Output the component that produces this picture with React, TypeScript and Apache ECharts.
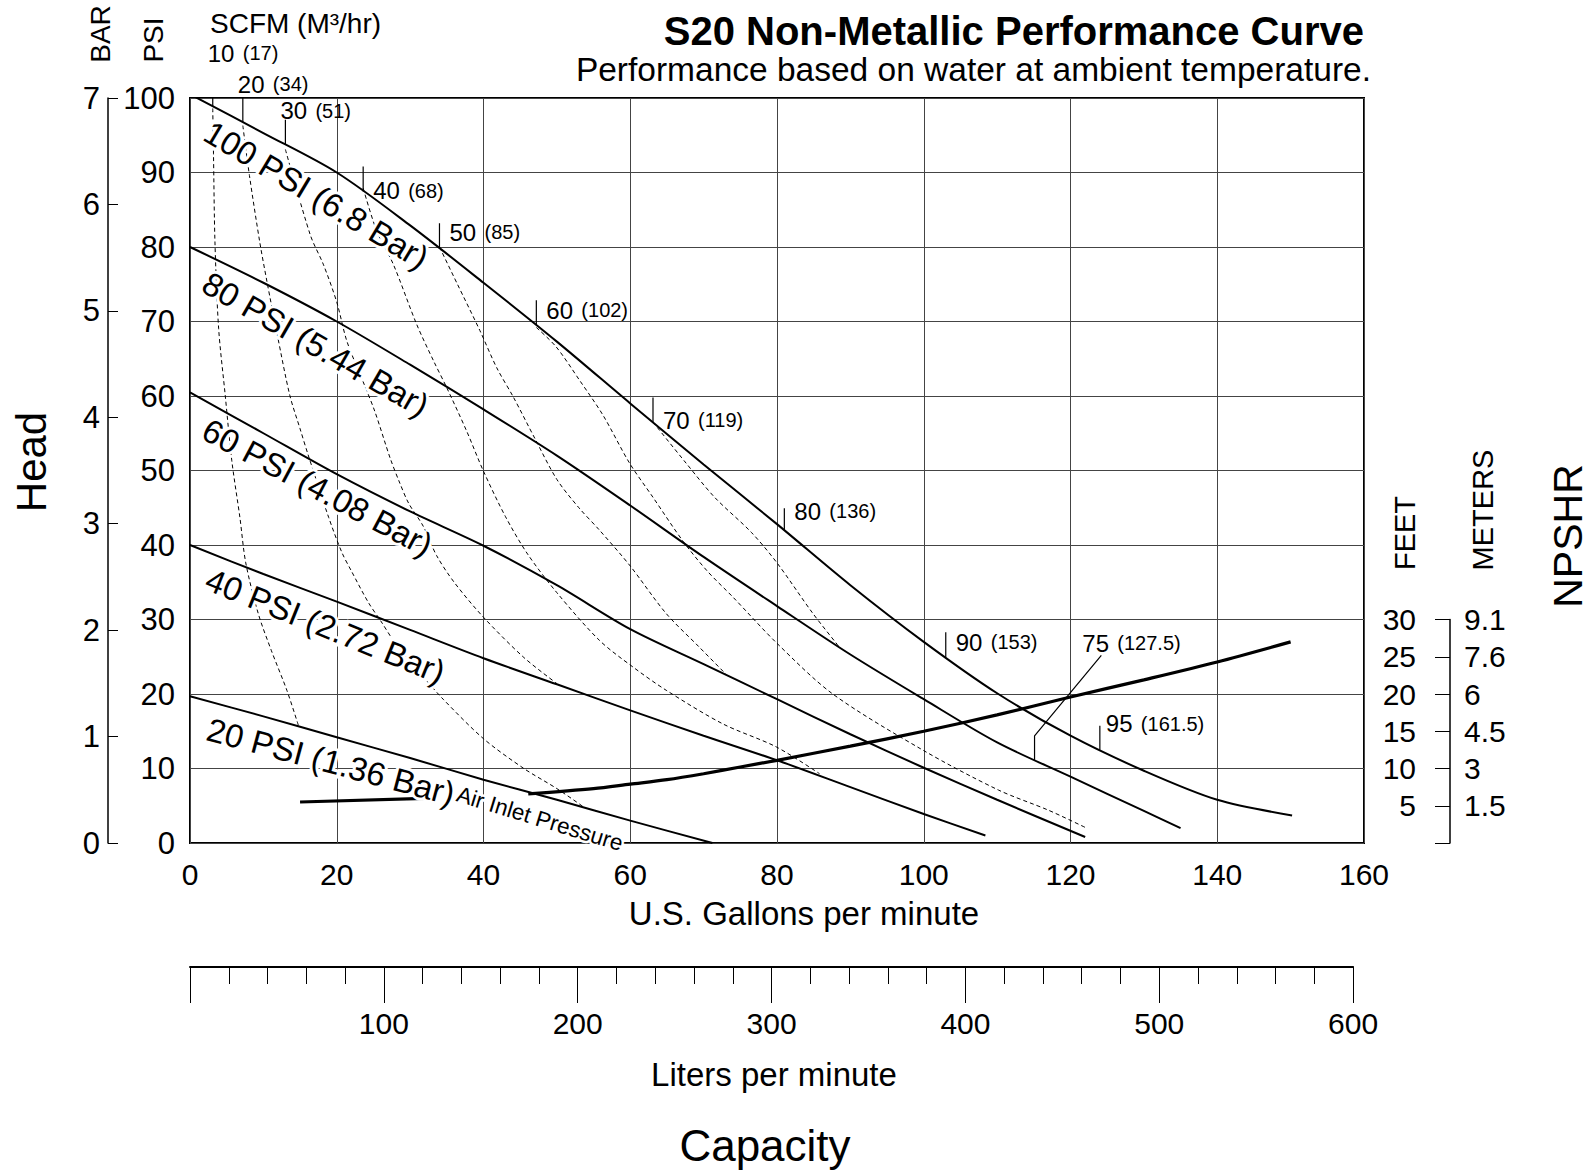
import React, { useEffect, useRef } from "react";
import * as echarts from "echarts";

const FONT = '"Liberation Sans", Arial, Helvetica, sans-serif';

// ---- Pressure curves: [U.S. gpm, head psi] ----
const CURVE_100_PSI = [[0,100.5],[10,95.3],[20,90],[30,82.9],[40,75.2],[50,67.3],[60,59],[70,50.8],[80,42.8],[90,34.6],[100,27],[110,20.1],[120,14.4],[130,9.7],[140,5.8],[150.2,3.7]];
const CURVE_80_PSI = [[0,80],[10,75.2],[20,70],[30,64.2],[40,58.2],[50,52],[60,45.3],[70,38.4],[80,31.8],[90,25.3],[100,19.3],[110,13.5],[120,8.9],[130,4.3],[135,2.0]];
const CURVE_60_PSI = [[0,60.5],[10,55],[20,49.5],[30,44.5],[40,39.9],[50,34.6],[60,28.7],[70,24],[80,19.3],[90,14.6],[100,10.1],[110,5.8],[122,0.8]];
const CURVE_40_PSI = [[0,40],[10,36.1],[20,32.4],[30,28.6],[40,24.8],[50,21.3],[60,17.8],[70,14.4],[80,11.1],[90,7.5],[100,3.9],[108.4,1.0]];
const CURVE_20_PSI = [[0,19.7],[10,17],[20,14.2],[30,11.4],[40,8.5],[50,5.8],[60,3.0],[71.2,0]];

const PRESSURE_LABELS = ["100 PSI (6.8 Bar)", "80 PSI (5.44 Bar)", "60 PSI (4.08 Bar)", "40 PSI (2.72 Bar)", "20 PSI (1.36 Bar)"];
const PRESSURE_LABEL_AT = [[3.5, 97.7], [3.2, 77.4], [3.1, 57.7], [3.2, 37.6], [3.0, 17.5]];
const PRESSURE_LABEL_ANGLE = [31, 30, 28, 22, 15];

// ---- Air consumption (SCFM) dashed curves ----
const SCFM_10 = [[3.1,98.6],[3.2,92.6],[3.4,80.7],[3.9,69.1],[4.8,60.1],[5.7,51.3],[6.8,43.7],[7.6,37.6],[9.3,30.8],[11.1,25.8],[13.2,20.5],[14.8,15.7]];
const SCFM_20 = [[7.2,96.3],[8.1,89.6],[9.5,80.7],[10.5,75.3],[11.9,68.2],[13.6,60.1],[15.0,55.6],[16.1,52.1],[18.9,43.7],[20.7,39],[22,36.5],[24.3,32.3],[26,29.8],[28.2,26.5],[31.8,22.3],[34.5,19.3],[40,14],[45.5,10],[50,7.3],[53.7,4.8]];
const SCFM_30 = [[13,93.1],[16.4,81.6],[18.2,77.6],[20,72.6],[21.4,67.3],[23.6,61.9],[25.2,57.9],[27.3,51.6],[28.6,48.3],[29.8,45.6],[31.8,42.5],[33.6,38.6],[36,35],[40,30.3],[45.5,24.9],[50,21.4]];
const SCFM_40 = [[23.6,87.9],[25.5,82],[27.7,77.7],[30.9,69.6],[33.2,64.7],[35,61.1],[37.7,55.3],[40,49.9],[43,43.8],[46,38.8],[50,33.6],[55.8,27.2],[60.4,23.6],[64.9,20.5],[72.6,16.0],[79.9,12.9],[85.8,9.3]];
const SCFM_50 = [[34,80],[36.4,75.1],[39.5,68.8],[41.8,63.8],[44.1,59.8],[47,54.3],[50,48.8],[53,45],[55.8,42],[59.9,37.3],[64.9,30.8],[69.4,26.3],[73.1,22.6]];
const SCFM_60 = [[47.2,69.2],[49.9,66.6],[53.1,62.1],[56.3,57.4],[59.9,51],[63.1,46.4],[67.2,40.5],[70.5,36.5],[74,33],[80,26.8],[87.6,20],[100,12.4],[110.2,7.1],[117,4.4],[122.2,2.0]];
const SCFM_70 = [[63.1,56.5],[67.6,51],[71.5,46.4],[76.5,41.7],[80,37.6],[84.9,30.8],[88.5,26.3]];
const SCFM_CURVES = [SCFM_10, SCFM_20, SCFM_30, SCFM_40, SCFM_50, SCFM_60, SCFM_70];

// SCFM markers on the 100 PSI curve
const SCFM_VALUES = ["10", "20", "30", "40", "50", "60", "70", "80", "90"];
const SCFM_M3HR = ["17", "34", "51", "68", "85", "102", "119", "136", "153"];
const SCFM_TICK_GPM = [3.1, 7.2, 13.0, 23.6, 34.0, 47.2, 63.1, 81.0, 103.0];

// Maximum air consumption notes
const MAX_100_SCFM = "95";
const MAX_100_M3HR = "161.5";
const MAX_100_GPM = 124.0;
const MAX_80_SCFM = "75";
const MAX_80_M3HR = "127.5";
const MAX_80_GPM = 115.1;
const MAX_80_LABEL_AT = [124.2, 25.2];

// ---- NPSHR (feet) ----
const NPSHR_FT_LOW = [[15.0,5.5],[32.0,6.0]];
const NPSHR_FT = [[46.1,6.6],[55,7.3],[60,7.9],[65,8.5],[70,9.3],[75,10.2],[80,11.1],[90,13.0],[100,15.0],[110,17.2],[120,19.6],[130,21.9],[140,24.3],[150,27.0]];
const METER_LABELS = ["1.5", "3", "4.5", "6", "7.6", "9.1"];
const LPM_PER_GPM = 3.785;
const LPM_MAX = 600;
const GPM_MAX = 160;

// ---- layout ----
const W = 1596, H = 1171;
const PL = 190, PT = 98, PW = 1174, PH = 745;
const SCFM_TICK_PX = [36, 25, 25, 25, 25, 25, 25, 22, 25];
const SCFM_LABEL_DY = [-17, -13, -9, 24, 9, 10, 23, 3, 10];

function psiAt(curve: number[][], g: number) {
  for (let i = 1; i < curve.length; i++) {
    if (g <= curve[i][0]) {
      const [x0, y0] = curve[i - 1];
      const [x1, y1] = curve[i];
      return y0 + ((g - x0) / (x1 - x0)) * (y1 - y0);
    }
  }
  return curve[curve.length - 1][1];
}

function textEl(text: string, x: number, y: number, o: any = {}) {
  const style: any = {
    text,
    fontSize: o.fontSize || 30,
    fontFamily: FONT,
    fontWeight: o.fontWeight || "normal",
    fill: "#000",
    textAlign: o.align || "center",
    align: o.align || "center",
    textVerticalAlign: o.valign || "middle",
    verticalAlign: o.valign || "middle",
  };
  if (o.rich) style.rich = o.rich;
  return { type: "text", x, y, rotation: o.rotation || 0, z: 100, silent: true, style };
}

function haloEl(text: string, x: number, y: number, o: any = {}) {
  const el: any = textEl(text, x, y, o);
  el.z = 90;
  el.style.fill = "#fff";
  el.style.stroke = "#fff";
  el.style.lineWidth = o.halo || 6;
  return el;
}

export default function App() {
  const ref = useRef<HTMLDivElement>(null);
  useEffect(() => {
    document.body.style.margin = "0";
    const chart = echarts.init(ref.current!, null, { renderer: "svg" });

    const solid = (data: number[][], name: string) => ({
      type: "line", name, data, xAxisIndex: 0, yAxisIndex: 0, showSymbol: false, symbol: "none",
      smooth: 0.3, z: 5, silent: true,
      lineStyle: { color: "#000", width: 2 },
    });

    const pxPerPsi = PH / 100;
    const tickData: any[] = [];
    SCFM_TICK_GPM.forEach((g, i) => {
      const y0 = psiAt(CURVE_100_PSI, g);
      tickData.push([g, y0], [g, y0 + SCFM_TICK_PX[i] / pxPerPsi], [g, "-"]);
    });
    const y95 = psiAt(CURVE_100_PSI, MAX_100_GPM);
    const top95 = y95 + 24 / pxPerPsi;
    tickData.push([MAX_100_GPM, y95], [MAX_100_GPM, top95], [MAX_100_GPM, "-"]);
    const y75 = psiAt(CURVE_80_PSI, MAX_80_GPM);
    const leader75 = [[MAX_80_GPM, y75], [MAX_80_GPM, y75 + 24 / pxPerPsi], MAX_80_LABEL_AT];

    const series: any[] = [
      solid(CURVE_100_PSI, "100 PSI"),
      solid(CURVE_80_PSI, "80 PSI"),
      solid(CURVE_60_PSI, "60 PSI"),
      solid(CURVE_40_PSI, "40 PSI"),
      solid(CURVE_20_PSI, "20 PSI"),
      ...SCFM_CURVES.map((d, i) => ({
        type: "line", name: "SCFM " + SCFM_VALUES[i], data: d, xAxisIndex: 0, yAxisIndex: 0,
        showSymbol: false, symbol: "none", smooth: 0.3, z: 4, silent: true,
        lineStyle: { color: "#000", width: 1, type: [4, 3] },
      })),
      {
        type: "line", name: "ticks", data: tickData, xAxisIndex: 0, yAxisIndex: 0, showSymbol: false,
        symbol: "none", connectNulls: false, z: 6, silent: true, lineStyle: { color: "#000", width: 1.2 },
      },
      {
        type: "line", name: "leader75", data: leader75, xAxisIndex: 0, yAxisIndex: 0, showSymbol: false,
        symbol: "none", z: 6, silent: true, lineStyle: { color: "#000", width: 1.2 },
      },
      {
        type: "line", name: "NPSHR low", data: NPSHR_FT_LOW, xAxisIndex: 0, yAxisIndex: 2, showSymbol: false,
        symbol: "none", z: 7, silent: true, lineStyle: { color: "#000", width: 3.2 },
      },
      {
        type: "line", name: "NPSHR", data: NPSHR_FT, xAxisIndex: 0, yAxisIndex: 2, showSymbol: false,
        symbol: "none", smooth: 0.3, z: 7, silent: true, lineStyle: { color: "#000", width: 3.2 },
      },
    ];

    const ftTop = PH * 30 / 100;
    const option: any = {
      animation: false,
      backgroundColor: "#fff",
      textStyle: { fontFamily: FONT, color: "#000" },
      grid: [
        { left: PL, top: PT, width: PW, height: PH, show: true, borderColor: "#000", borderWidth: 2, backgroundColor: "transparent" },
        { left: PL, top: 966, width: PW * (LPM_MAX / LPM_PER_GPM) / GPM_MAX, height: 1, show: false },
        { left: 1450, top: PT + PH - ftTop, width: 1, height: ftTop, show: false },
      ],
      xAxis: [
        {
          gridIndex: 0, type: "value", min: 0, max: GPM_MAX, interval: 20,
          axisLine: { show: false }, axisTick: { show: false },
          axisLabel: { fontSize: 30, color: "#000", margin: 16, fontFamily: FONT },
          splitLine: { show: true, lineStyle: { color: "#444", width: 1 } },
        },
        {
          gridIndex: 1, type: "value", min: 0, max: LPM_MAX, interval: 100, position: "bottom",
          axisLine: { show: true, lineStyle: { color: "#000", width: 2 } },
          axisTick: { show: true, length: 36, lineStyle: { color: "#000", width: 1 } },
          minorTick: { show: true, splitNumber: 5, length: 17, lineStyle: { color: "#000", width: 1 } },
          axisLabel: { fontSize: 30, color: "#000", margin: 41, fontFamily: FONT, formatter: (v: number) => (v === 0 ? "" : String(v)) },
          splitLine: { show: false },
        },
        { gridIndex: 2, type: "value", show: false, min: 0, max: 1 },
      ],
      yAxis: [
        {
          gridIndex: 0, type: "value", min: 0, max: 100, interval: 10, position: "left",
          axisLine: { show: false }, axisTick: { show: false },
          axisLabel: { fontSize: 31, color: "#000", margin: 15, fontFamily: FONT },
          splitLine: { show: true, lineStyle: { color: "#444", width: 1 } },
        },
        {
          gridIndex: 0, type: "value", min: 0, max: 7, interval: 1, position: "left", offset: 82,
          axisLine: { show: true, lineStyle: { color: "#000", width: 1.5 } },
          axisTick: { show: true, inside: true, length: 10, lineStyle: { color: "#000", width: 1 } },
          axisLabel: { fontSize: 31, color: "#000", margin: 8, fontFamily: FONT },
          splitLine: { show: false },
        },
        { gridIndex: 0, type: "value", min: 0, max: 100, show: false },
        { gridIndex: 1, type: "value", show: false, min: 0, max: 1 },
        {
          gridIndex: 2, type: "value", min: 0, max: 30, interval: 5, position: "left",
          axisLine: { show: true, lineStyle: { color: "#000", width: 1.5 } },
          axisTick: { show: true, length: 15, lineStyle: { color: "#000", width: 1 } },
          axisLabel: { fontSize: 30, color: "#000", margin: 34, fontFamily: FONT, formatter: (v: number) => (v === 0 ? "" : String(v)) },
          splitLine: { show: false },
        },
        {
          gridIndex: 2, type: "value", min: 0, max: 30, interval: 5, position: "right",
          axisLine: { show: false }, axisTick: { show: false },
          axisLabel: { fontSize: 30, color: "#000", margin: 13, fontFamily: FONT, formatter: (v: number) => (v === 0 ? "" : METER_LABELS[v / 5 - 1]) },
          splitLine: { show: false },
        },
      ],
      series,
    };
    chart.setOption(option);

    const px = (p: number[]) => chart.convertToPixel({ xAxisIndex: 0, yAxisIndex: 0 }, p) as number[];
    const g: any[] = [];
    const V = Math.PI / 2;
    g.push(textEl("S20 Non-Metallic Performance Curve", 1364, 31, { align: "right", fontSize: 40, fontWeight: "bold" }));
    g.push(textEl("Performance based on water at ambient temperature.", 1371, 69, { align: "right", fontSize: 33.5 }));
    g.push(textEl("SCFM (M³/hr)", 210, 23, { align: "left", fontSize: 28 }));
    g.push(textEl("BAR", 100, 34, { rotation: V, fontSize: 28 }));
    g.push(textEl("PSI", 153, 40, { rotation: V, fontSize: 28 }));
    g.push(textEl("Head", 31, 462, { rotation: V, fontSize: 42 }));
    g.push(textEl("U.S. Gallons per minute", 804, 913, { fontSize: 33 }));
    g.push(textEl("Liters per minute", 774, 1074, { fontSize: 33 }));
    g.push(textEl("Capacity", 765, 1145, { fontSize: 44 }));
    g.push(textEl("FEET", 1405, 533, { rotation: V, fontSize: 29 }));
    g.push(textEl("METERS", 1483, 510, { rotation: V, fontSize: 29 }));
    g.push(textEl("NPSHR", 1568, 536, { rotation: V, fontSize: 41 }));

    PRESSURE_LABELS.forEach((t, i) => {
      const [x, y] = px(PRESSURE_LABEL_AT[i]);
      const o = { align: "left", valign: "top", fontSize: 33, rotation: -PRESSURE_LABEL_ANGLE[i] * Math.PI / 180 };
      g.push(haloEl(t, x, y, o));
      g.push(textEl(t, x, y, o));
    });
    {
      const [x, y] = px([36.9, 8.1]);
      const o = { align: "left", valign: "top", fontSize: 22.5, rotation: -17 * Math.PI / 180, halo: 5 };
      g.push(haloEl("Air Inlet Pressure", x, y, o));
      g.push(textEl("Air Inlet Pressure", x, y, o));
    }
    const rich = { a: { fontSize: 24, fontFamily: FONT }, b: { fontSize: 20, fontFamily: FONT } };
    const scfmText = (s: string, m: string) => `{a|${s}} {b|(${m})}`;
    SCFM_TICK_GPM.forEach((gpm, i) => {
      const [tx, ty] = px([gpm, psiAt(CURVE_100_PSI, gpm) + SCFM_TICK_PX[i] / pxPerPsi]);
      const t = scfmText(SCFM_VALUES[i], SCFM_M3HR[i]);
      const pos = i < 3 ? [tx - 5, ty + SCFM_LABEL_DY[i]] : [tx + 10, ty + SCFM_LABEL_DY[i]];
      g.push(textEl(t, pos[0], pos[1], { align: "left", valign: "middle", rich }));
    });
    {
      const [tx, ty] = px([MAX_100_GPM, top95]);
      const t = scfmText(MAX_100_SCFM, MAX_100_M3HR);
      g.push(textEl(t, tx + 6, ty - 2, { align: "left", valign: "middle", rich }));
    }
    {
      const [ex, ey] = px(MAX_80_LABEL_AT);
      const t = scfmText(MAX_80_SCFM, MAX_80_M3HR);
      g.push(textEl(t, ex - 19, ey - 12, { align: "left", valign: "middle", rich }));
    }
    chart.setOption({ graphic: { elements: g } });

    return () => chart.dispose();
  }, []);
  return <div ref={ref} style={{ width: W, height: H }} />;
}
